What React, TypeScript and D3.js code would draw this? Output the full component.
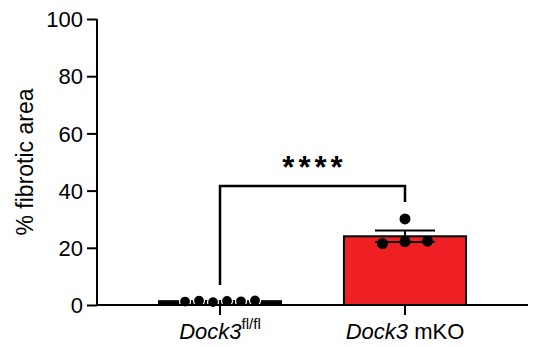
import { useEffect, useRef } from 'react';
import * as d3 from 'd3';

const GROUPS = ['ctrl', 'mko'];
const GROUP_FILL = ['#000000', '#ee2024'];
const GROUP_VALUES = [
  [1.2, 1.5, 1.0, 1.4, 1.3, 1.6],
  [21.5, 30.1, 22.2, 22.3],
];
const Y_TICKS = [0, 20, 40, 60, 80, 100];
const SIG_LABEL = '****';

const FONT = 'Arial, "Liberation Sans", Helvetica, sans-serif';

export default function App() {
  const svgRef = useRef<SVGSVGElement | null>(null);

  useEffect(() => {
    if (!svgRef.current) return;
    const W = 537;
    const H = 347;
    const svg = d3.select(svgRef.current);
    svg.selectAll('*').remove();
    svg.attr('width', W).attr('height', H).attr('viewBox', `0 0 ${W} ${H}`);

    const x = d3.scaleBand<string>()
      .domain(GROUPS)
      .range([97, 528])
      .paddingInner(0.34)
      .paddingOuter(0.335);
    const y = d3.scaleLinear().domain([0, 100]).range([305, 19]);

    const stats = GROUP_VALUES.map(vals => {
      const mean = d3.mean(vals) ?? 0;
      const sd = d3.deviation(vals) ?? 0;
      return { mean, sem: sd / Math.sqrt(vals.length) };
    });

    const g = svg.append('g');

    // bars
    g.selectAll('.bar')
      .data(GROUPS)
      .join('rect')
      .attr('class', 'bar')
      .attr('x', d => x(d)!)
      .attr('width', x.bandwidth())
      .attr('y', (d, i) => y(stats[i].mean))
      .attr('height', (d, i) => y(0) - y(stats[i].mean))
      .attr('fill', (d, i) => GROUP_FILL[i])
      .attr('stroke', '#000')
      .attr('stroke-width', 2);

    // error bars (mean +/- SEM)
    GROUPS.forEach((grp, i) => {
      const cx = x(grp)! + x.bandwidth() / 2;
      const { mean, sem } = stats[i];
      const capW = i === 0 ? 20 : 30;
      const e = g.append('g').attr('stroke', '#000').attr('stroke-width', 2);
      e.append('line').attr('x1', cx).attr('x2', cx).attr('y1', y(mean - sem)).attr('y2', y(mean + sem));
      [mean - sem, mean + sem].forEach(v => {
        e.append('line').attr('x1', cx - capW).attr('x2', cx + capW).attr('y1', y(v)).attr('y2', y(v));
      });
    });

    // points: values within a cluster are spread sideways
    GROUPS.forEach((grp, i) => {
      const cx = x(grp)! + x.bandwidth() / 2;
      const vals = GROUP_VALUES[i];
      const spacing = i === 0 ? 14 : 22.5;
      const low = vals.filter(v => Math.abs(v - d3.min(vals)!) < 3);
      const pts = vals.map(v => {
        const k = low.indexOf(v);
        const off = k < 0 ? 0 : (k - (low.length - 1) / 2) * spacing;
        return { v, cx: cx + off };
      });
      g.append('g')
        .selectAll('circle')
        .data(pts)
        .join('circle')
        .attr('cx', d => d.cx)
        .attr('cy', d => y(d.v))
        .attr('r', 5.5)
        .attr('fill', '#000')
        .attr('stroke', i === 0 ? '#fff' : 'none')
        .attr('stroke-width', 1.2);
    });

    // axes
    const axisY = g.append('g').attr('transform', `translate(97,0)`)
      .call(d3.axisLeft(y).tickValues(Y_TICKS).tickSize(10).tickPadding(4));
    axisY.select('.domain').attr('stroke', '#000').attr('stroke-width', 2).attr('d', `M0,${y(100)}V${y(0)}`);
    axisY.selectAll('.tick line').attr('stroke', '#000').attr('stroke-width', 2);
    axisY.selectAll('.tick text')
      .attr('fill', '#000')
      .attr('font-size', 22)
      .attr('font-family', FONT)
      .attr('dy', '0.35em');

    const axisX = g.append('g').attr('transform', `translate(0,${y(0)})`)
      .call(d3.axisBottom(x).tickSize(10).tickFormat(() => ''));
    axisX.select('.domain').attr('stroke', '#000').attr('stroke-width', 2).attr('d', `M97,0H528`);
    axisX.selectAll('.tick line').attr('stroke', '#000').attr('stroke-width', 2);

    // x labels
    const lab = (grp: string) => x(grp)! + x.bandwidth() / 2;
    const t1 = svg.append('text')
      .attr('x', lab(GROUPS[0]))
      .attr('y', 339)
      .attr('text-anchor', 'middle')
      .attr('font-family', FONT)
      .attr('font-size', 22)
      .attr('fill', '#000');
    t1.append('tspan').attr('font-style', 'italic').text('Dock3');
    t1.append('tspan').attr('font-size', 15).attr('dy', -10).text('fl/fl');

    const t2 = svg.append('text')
      .attr('x', lab(GROUPS[1]))
      .attr('y', 339)
      .attr('text-anchor', 'middle')
      .attr('font-family', FONT)
      .attr('font-size', 22)
      .attr('fill', '#000');
    t2.append('tspan').attr('font-style', 'italic').text('Dock3');
    t2.append('tspan').text(' mKO');

    // y title
    svg.append('text')
      .attr('transform', `translate(33,${162}) rotate(-90)`)
      .attr('text-anchor', 'middle')
      .attr('font-family', FONT)
      .attr('font-size', 23)
      .attr('fill', '#000')
      .text('% fibrotic area');

    // significance bracket
    const x1 = lab(GROUPS[0]);
    const x2 = lab(GROUPS[1]);
    const topY = 186;
    svg.append('path')
      .attr('d', `M${x1},285V${topY}H${x2}V202`)
      .attr('fill', 'none')
      .attr('stroke', '#000')
      .attr('stroke-width', 2.5);
    svg.append('text')
      .attr('x', (x1 + x2) / 2 + 2)
      .attr('y', 178)
      .attr('text-anchor', 'middle')
      .attr('font-family', FONT)
      .attr('font-weight', 'bold')
      .attr('font-size', 31)
      .attr('letter-spacing', 4)
      .attr('fill', '#000')
      .text(SIG_LABEL);
  }, []);

  return (
    <div style={{ margin: -8 }}>
      <svg ref={svgRef} style={{ display: 'block' }} />
    </div>
  );
}
